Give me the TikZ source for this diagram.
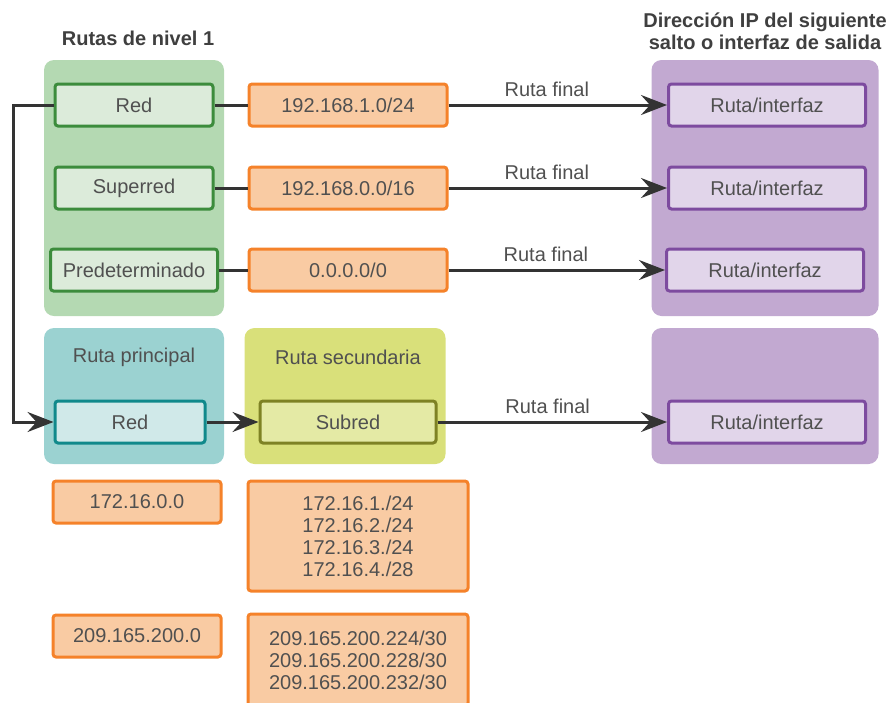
\documentclass[tikz,border=0pt]{standalone}
\usepackage{fontspec}
\setmainfont{Liberation Sans}
\usepackage{tikz}
\usetikzlibrary{arrows.meta, positioning}

\definecolor{txtgray}{HTML}{505050}
\definecolor{ttlgray}{HTML}{3F3F3F}
\definecolor{linegray}{HTML}{333333}
\definecolor{greenbg}{HTML}{B4D9B2}
\definecolor{greenfill}{HTML}{DCEBDA}
\definecolor{greendraw}{HTML}{3C8C3C}
\definecolor{orfill}{HTML}{F9CBA3}
\definecolor{ordraw}{HTML}{F5822A}
\definecolor{purplebg}{HTML}{C2A9D1}
\definecolor{purplefill}{HTML}{E1D5EA}
\definecolor{purpledraw}{HTML}{7D4B9F}
\definecolor{tealbg}{HTML}{9BD2D1}
\definecolor{tealfill}{HTML}{D0E9E9}
\definecolor{tealdraw}{HTML}{10898B}
\definecolor{yellowbg}{HTML}{D9E07A}
\definecolor{yellowfill}{HTML}{E4EAA5}
\definecolor{yellowdraw}{HTML}{7E8224}

\begin{document}
\begin{tikzpicture}[x=1pt, y=-1pt,
    font=\fontsize{20}{22}\selectfont,
    panel/.style={fill=#1, rounded corners=10pt, inner sep=0pt},
    box/.style={line width=3pt, rounded corners=3pt, minimum height=42pt,
        inner sep=0pt, text=txtgray, align=center},
    greenbox/.style={box, draw=greendraw, fill=greenfill},
    orbox/.style={box, draw=ordraw, fill=orfill},
    purplebox/.style={box, draw=purpledraw, fill=purplefill, minimum width=197pt},
    conn/.style={draw=linegray, line width=3pt},
    tip/.style={-{Stealth[length=26pt, width=20pt, inset=9pt]}},
    lbl/.style={above=3pt, text=txtgray},
    title/.style={font=\fontsize{20}{22}\selectfont\bfseries, text=ttlgray, align=center}]
    \clip (0,0) rectangle (891,702);

    % Titles
    \node[title] (ttl1) at (138,38) {Rutas de nivel 1};
    \node[title] (ttl2) at (765,31) {Dirección IP del siguiente\\salto o interfaz de salida};

    % Panels
    \node[panel=greenbg, minimum width=180pt, minimum height=256pt] (nivel) at (134,188) {};
    \node[panel=purplebg, minimum width=227pt, minimum height=256pt] (salida) at (765,188) {};
    \node[panel=tealbg, minimum width=180pt, minimum height=136pt] (principal) at (134,396) {};
    \node[panel=yellowbg, minimum width=201pt, minimum height=136pt] (secundaria) at (345,396) {};
    \node[panel=purplebg, minimum width=227pt, minimum height=136pt] (salida4) at (765,396) {};

    % Level 1 routes
    \node[greenbox, minimum width=158pt] (red1) at (134,105) {Red};
    \node[greenbox, minimum width=158pt] (super) at (134,188) {Superred};
    \node[greenbox, minimum width=167pt] (pred) at (134,270) {Predeterminado};

    \node[orbox, minimum width=198pt] (ip1) at (348,105) {192.168.1.0/24};
    \node[orbox, minimum width=198pt] (ip2) at (348,188) {192.168.0.0/16};
    \node[orbox, minimum width=198pt] (ip3) at (348,270) {0.0.0.0/0};

    \node[purplebox] (sal1) at (767,105) {Ruta/interfaz};
    \node[purplebox] (sal2) at (767,188) {Ruta/interfaz};
    \node[purplebox] (sal3) at (765,270) {Ruta/interfaz};

    % Parent and child routes
    \node[text=txtgray] (lblprin) at (134,357) {Ruta principal};
    \node[text=txtgray] (lblsec) at (348,357) {Ruta secundaria};
    \node[box, draw=tealdraw, fill=tealfill, minimum width=150pt] (red2) at (130,422) {Red};
    \node[box, draw=yellowdraw, fill=yellowfill, minimum width=176pt] (subred) at (348,422) {Subred};
    \node[purplebox] (sal4) at (767,422) {Ruta/interfaz};

    % Example addresses
    \node[orbox, minimum width=168pt] (net1) at (137,502) {172.16.0.0};
    \node[orbox, minimum width=220pt, minimum height=110pt] (sub1) at (358,536)
        {172.16.1./24\\172.16.2./24\\172.16.3./24\\172.16.4./28};
    \node[orbox, minimum width=168pt] (net2) at (137,636) {209.165.200.0};
    \node[orbox, minimum width=220pt, minimum height=92pt] (sub2) at (358,660)
        {209.165.200.224/30\\209.165.200.228/30\\209.165.200.232/30};

    % Connectors
    \draw[conn] (red1) -- (ip1);
    \draw[conn] (super) -- (ip2);
    \draw[conn] (pred) -- (ip3);
    \draw[conn,tip] (ip1) -- node[pos=0.45, lbl] {Ruta final} (sal1);
    \draw[conn,tip] (ip2) -- node[pos=0.45, lbl] {Ruta final} (sal2);
    \draw[conn,tip] (ip3) -- node[pos=0.45, lbl] {Ruta final} (sal3);

    \coordinate (bendtop) at (13,105);
    \coordinate (bendbot) at (13,422);
    \draw[conn,tip] (red1.west) -- (bendtop) -- (bendbot) -- (red2.west);
    \draw[conn,tip] (red2) -- (subred);
    \draw[conn,tip] (subred) -- node[pos=0.48, lbl] {Ruta final} (sal4);
\end{tikzpicture}
\end{document}
